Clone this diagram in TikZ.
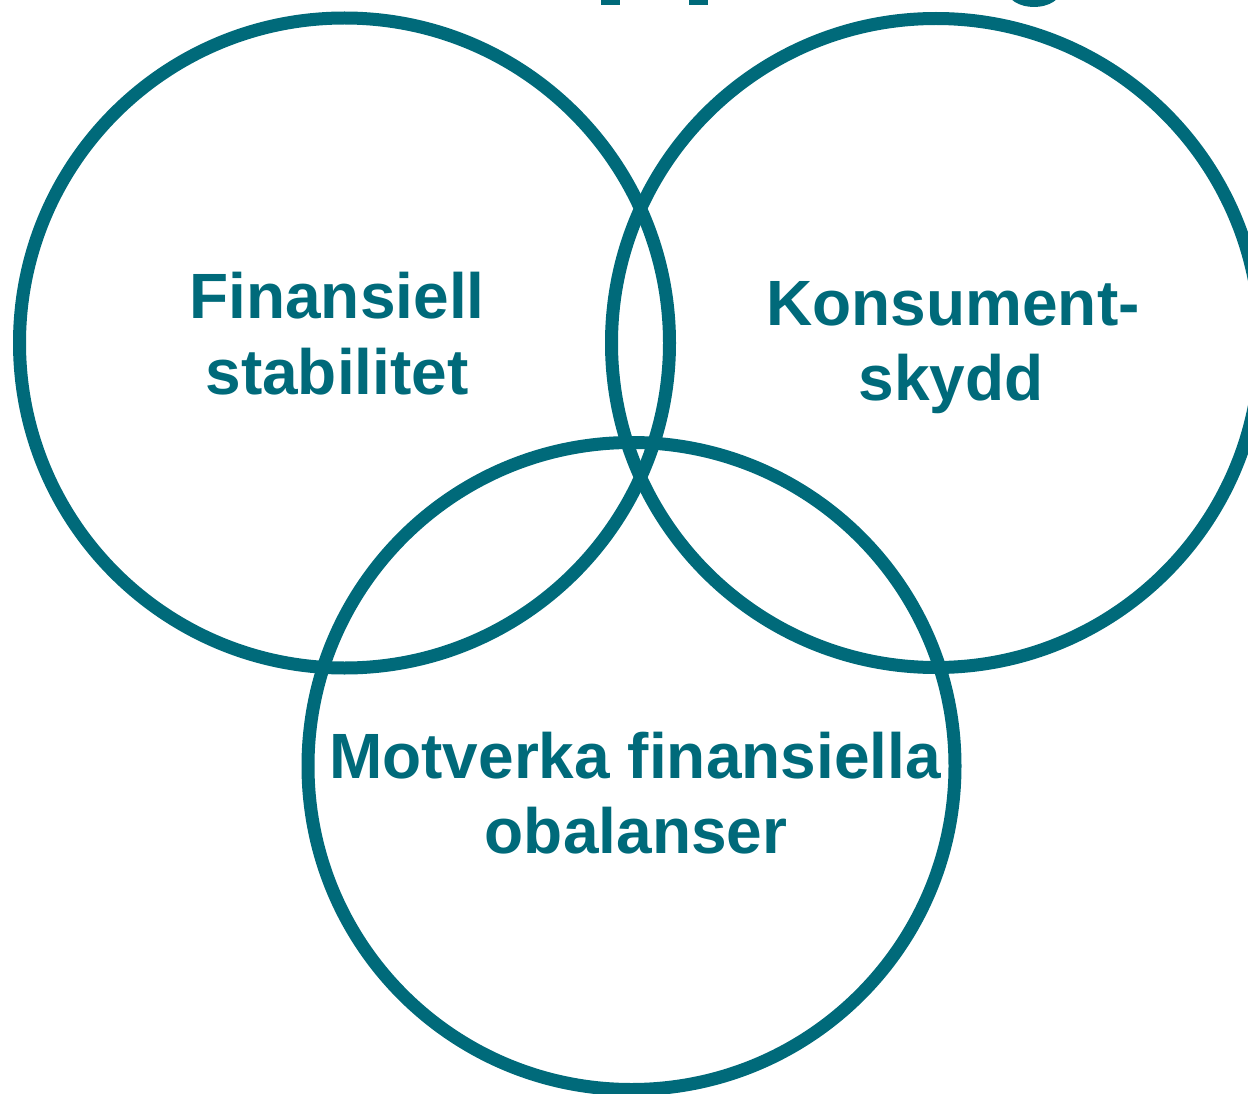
\documentclass[tikz,border=0pt]{standalone}
\usepackage{fontspec}
\setmainfont{Liberation Sans}
\definecolor{teal0}{RGB}{0,106,122}
\begin{document}
\begin{tikzpicture}[x=1pt,y=-1pt,
  ring/.style={draw=teal0,line width=13pt},
  lab/.style={anchor=base,inner sep=0pt,text=teal0,font=\fontsize{64}{76}\selectfont\bfseries}]
\useasboundingbox (0,0) rectangle (1248,1094);
\clip (0,0) rectangle (1248,1094);
% cut-off title fragments
\fill[teal0] (601,-10) rectangle (620,5);
\fill[teal0] (689,-10) rectangle (708,5);
\fill[teal0] (1034,-10) ellipse [x radius=27, y radius=17];
% circles
\draw[ring] (344.5,343) circle [radius=325];
\draw[ring] (936,343) circle [radius=324.5];
\draw[ring] (631.5,766) circle [radius=323.5];
% labels
\node[lab] (fin1) at (337,318) {Finansiell};
\node[lab] (fin2) at (337,394) {stabilitet};
\node[lab] (kon1) at (953,325) {Konsument-};
\node[lab] (kon2) at (951,400) {skydd};
\node[lab] (mot1) at (635,778) {Motverka finansiella};
\node[lab] (mot2) at (636,853) {obalanser};
\end{tikzpicture}
\end{document}
